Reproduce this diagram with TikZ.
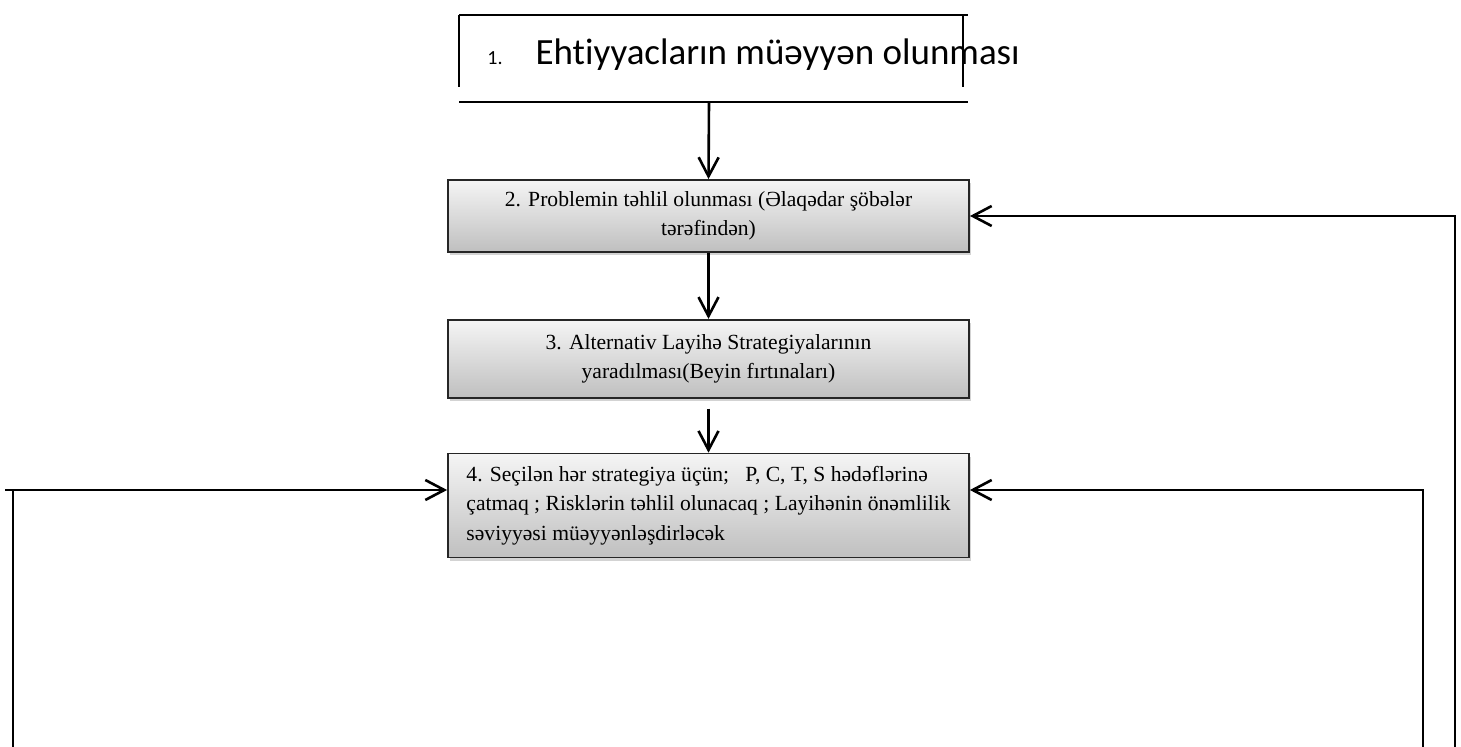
\documentclass[tikz,border=0pt]{standalone}
\usepackage{fontspec}
\setmainfont{Liberation Serif}
\newfontfamily\calibri[Ligatures={NoCommon}]{Carlito}
\usetikzlibrary{positioning, arrows.meta, shadows}

\begin{document}
\begin{tikzpicture}[
    x=0.5pt, y=-0.5pt,
    flowbox/.style={draw=black!85, line width=0.9pt, rectangle, top color=gray!8, bottom color=gray!50,
        drop shadow={shadow xshift=1.2pt, shadow yshift=-1.5pt, opacity=0.35},
        minimum width=260.5pt, inner sep=0pt, align=center, font=\fontsize{10.8}{14.8}\selectfont},
    arr/.style={-{Straight Barb[length=9.5pt, width=10pt]}, line width=1.3pt},
    frame/.style={line width=0.8pt}
]
    \useasboundingbox (0,0) rectangle (1461,747);

    % top step, open frame
    \node[anchor=base west, inner sep=0pt, font=\calibri\fontsize{18.5}{22}\selectfont] (need) at (487,65)
        {{\fontsize{10}{12}\selectfont 1.}\hspace{16.5pt}Ehtiyyacların müəyyən olunması};
    \draw[frame] (459,15) -- (968,15);
    \draw[frame] (459,15) -- (459,87);
    \draw[frame] (963,15) -- (963,87);
    \draw[frame] (459,102) -- (968,102);
    \coordinate (needfoot) at (709,102);

    \node[flowbox, minimum height=36pt] (analysis) at (708.5,216) {2. Problemin təhlil olunması (Əlaqədar şöbələr\\tərəfindən)};
    \node[flowbox, minimum height=39pt] (strat) [below=33pt of analysis] {3. Alternativ Layihə Strategiyalarının\\yaradılması(Beyin fırtınaları)};
    \node[flowbox, minimum height=52pt, align=left] (select) [below=27pt of strat]
        {4. Seçilən hər strategiya üçün;\ \ \ P, C, T, S hədəflərinə\\çatmaq ; Risklərin təhlil olunacaq ; Layihənin önəmlilik\\səviyyəsi müəyyənləşdirləcək};

    \draw[arr] (needfoot) -- (analysis.north);
    \draw[arr] (analysis.south) -- (strat.north);
    \draw[arr] ([yshift=-5pt]strat.south) -- (select.north);

    % feedback loops
    \coordinate (lin) at (5,490);
    \coordinate (lfoot) at (13,747);
    \coordinate (rinfoot) at (1423,747);
    \coordinate (routfoot) at (1455,747);
    \draw[arr] (routfoot) |- (analysis.east);
    \draw[arr] (rinfoot) |- (lin -| select.east);
    \draw[line width=1.3pt] (lfoot) -- (lfoot |- lin);
    \draw[arr] (lin) -- (lin -| select.west);
\end{tikzpicture}
\end{document}
